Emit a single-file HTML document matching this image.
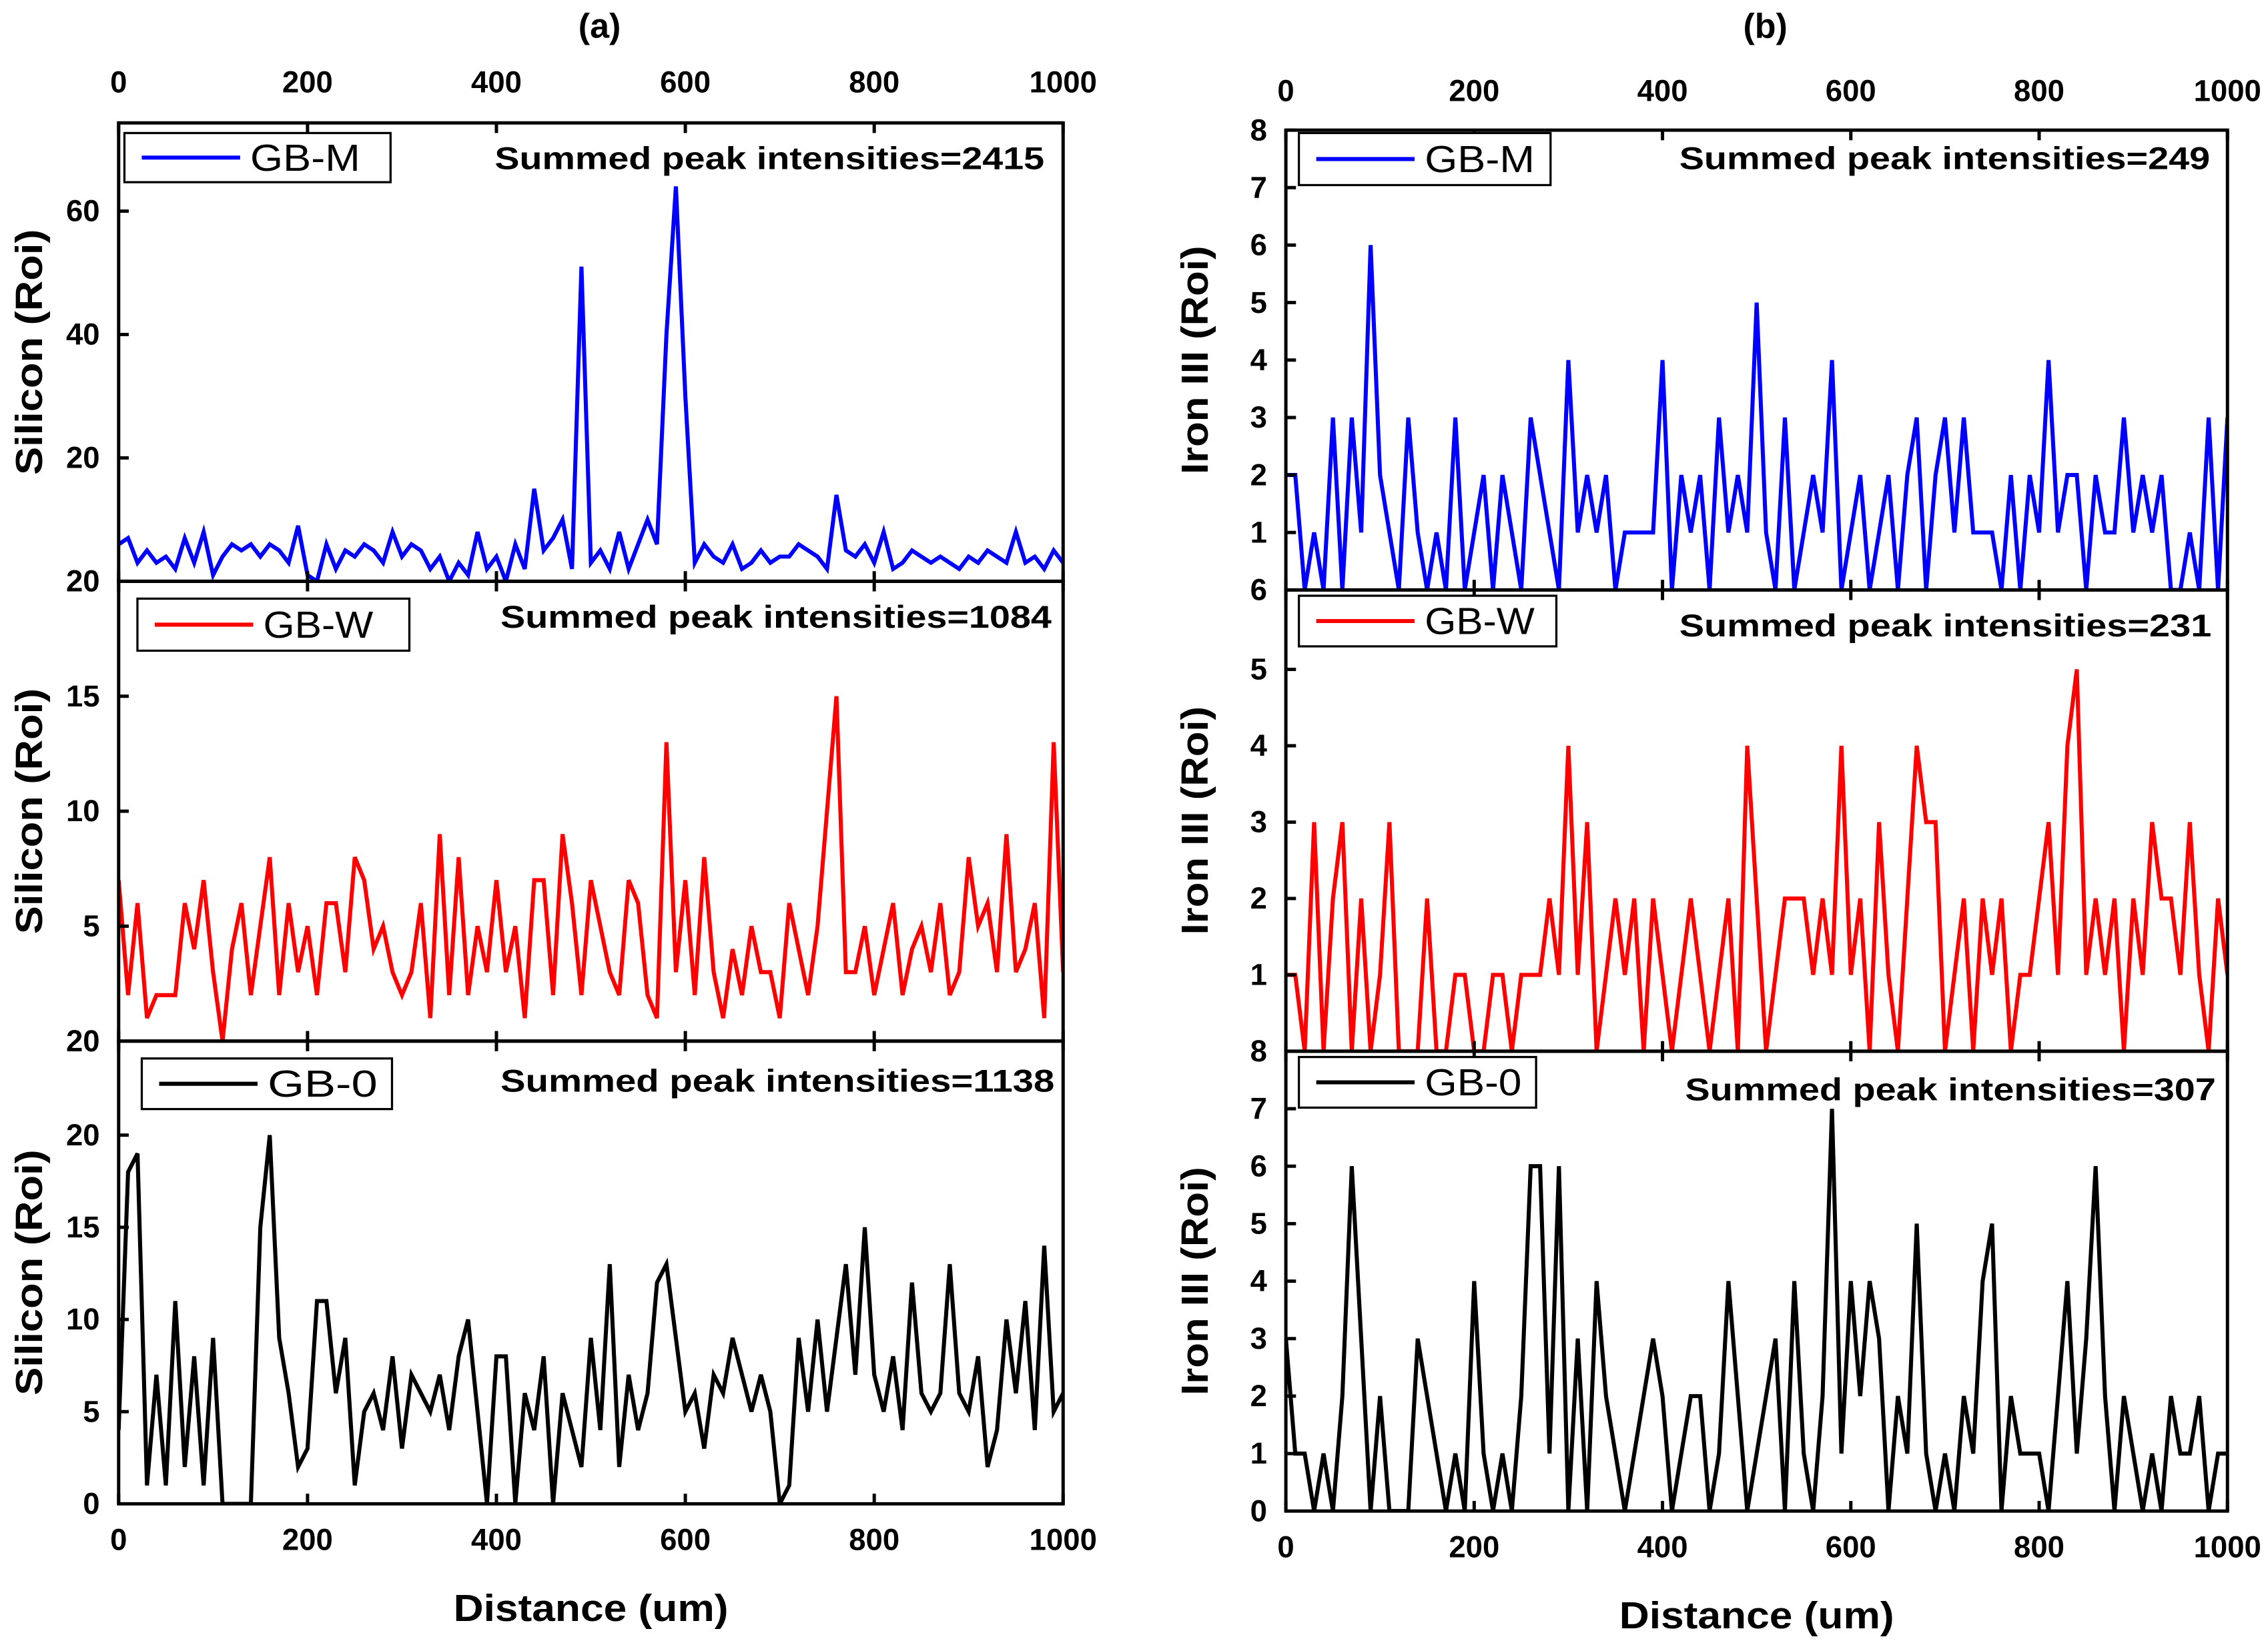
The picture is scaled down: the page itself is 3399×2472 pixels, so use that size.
<!DOCTYPE html>
<html><head><meta charset="utf-8"><style>
html,body{margin:0;padding:0;background:#fff;}
svg{display:block;font-family:"Liberation Sans",Arial,sans-serif;}
</style></head><body>
<svg id="chart" width="3399" height="2472" viewBox="0 0 1568 1140.4" xmlns="http://www.w3.org/2000/svg"></svg>
<script>
// ---- data (x = 0..1000 step 10) ----
const xStepData = 10;
const siliconGBM = [6,7,3,5,3,4,2,7,3,8, 1,4,6,5,6,4,6,5,3,9, 1,0,6,2,5,4,6,5,3,8, 4,6,5,2,4,0,3,1,8,2, 4,0,6,2,15,5,7,10,2,51, 3,5,2,8,2,6,10,6,40,64, 30,3,6,4,3,6,2,3,5,3, 4,4,6,5,4,2,14,5,4,6, 3,8,2,3,5,4,3,4,3,2, 4,3,5,4,3,8,3,4,2,5, 3];
const siliconGBW = [7,2,6,1,2,2,2,6,4,7, 3,0,4,6,2,5,8,2,6,3, 5,2,6,6,3,8,7,4,5,3, 2,3,6,1,9,2,8,2,5,3, 7,3,5,1,7,7,2,9,6,2, 7,5,3,2,7,6,2,1,13,3, 7,2,8,3,1,4,2,5,3,3, 1,6,4,2,5,10,15,3,3,5, 2,4,6,2,4,5,3,6,2,3, 8,5,6,3,9,3,4,6,1,13, 3];
const siliconGB0 = [4,18,19,1,7,1,11,2,8,1, 9,0,0,0,0,15,20,9,6,2, 3,11,11,6,9,1,5,6,4,8, 3,7,6,5,7,4,8,10,5,0, 8,8,0,6,4,8,0,6,4,2, 9,4,13,2,7,4,6,12,13,9, 5,6,3,7,6,9,7,5,7,5, 0,1,9,5,10,5,9,13,7,15, 7,5,8,4,12,6,5,6,13,6, 5,8,2,4,10,6,11,4,14,5, 6];
const ironGBM = [2,2,0,1,0,3,0,3,1,6, 2,1,0,3,1,0,1,0,3,0, 1,2,0,2,1,0,3,2,1,0, 4,1,2,1,2,0,1,1,1,1, 4,0,2,1,2,0,3,1,2,1, 5,1,0,3,0,1,2,1,4,0, 1,2,0,1,2,0,2,3,0,2, 3,1,3,1,1,1,0,2,0,2, 1,4,1,2,2,0,2,1,1,3, 1,2,1,2,0,0,1,0,3,0, 3];
const ironGBW = [1,1,0,3,0,2,3,0,2,0, 1,3,0,0,0,2,0,0,1,1, 0,0,1,1,0,1,1,1,2,1, 4,1,3,0,1,2,1,2,0,2, 1,0,1,2,1,0,1,2,0,4, 2,0,1,2,2,2,1,2,1,4, 1,2,0,3,1,0,2,4,3,3, 0,1,2,0,2,1,2,0,1,1, 2,3,1,4,5,1,2,1,2,0, 2,1,3,2,2,1,3,1,0,2, 1];
const ironGB0 = [3,1,1,0,1,0,2,6,3,0, 2,0,0,0,3,2,1,0,1,0, 4,1,0,1,0,2,6,6,1,6, 0,3,0,4,2,1,0,1,2,3, 2,0,1,2,2,0,1,4,2,0, 1,2,3,0,4,1,0,2,7,1, 4,2,4,3,0,2,1,5,1,0, 1,0,2,1,4,5,0,2,1,1, 1,0,2,4,1,3,6,2,0,2, 1,0,1,0,2,1,1,2,0,1, 1];
const xTicks = [0,200,400,600,800,1000];
const siTicksM = [20,40,60];
const siTicksW = [5,10,15];
const siTicks0 = [5,10,15,20];
const feTicksM = [1,2,3,4,5,6,7,8];
const feTicksW = [1,2,3,4,5];
const feTicks0 = [1,2,3,4,5,6,7];
const sums = ["2415","1084","1138","249","231","307"];

const NS="http://www.w3.org/2000/svg";
const svg=document.getElementById('chart');
function mk(tag,attrs,parent){const e=document.createElementNS(NS,tag);for(const k in attrs)e.setAttribute(k,attrs[k]);(parent||svg).appendChild(e);return e;}

const colA={x0:82,x1:735}, colB={x0:889,x1:1540};
const panels=[
 {col:colA,y0:85,y1:402,vmax:74.3,data:siliconGBM,color:'#0000ff',ticks:siTicksM,label:'GB-M',sum:sums[0],leg:[86,92,184,34],sumX:722,sumY:117,sumW:380,title:'Silicon (Roi)',bottomLabel:'20',name:'a-gb-m'},
 {col:colA,y0:402,y1:720,vmax:20,data:siliconGBW,color:'#ff0000',ticks:siTicksW,label:'GB-W',sum:sums[1],leg:[95,414,188,36],sumX:727,sumY:434,sumW:381,title:'Silicon (Roi)',bottomLabel:'20',name:'a-gb-w'},
 {col:colA,y0:720,y1:1040,vmax:25.1,data:siliconGB0,color:'#000000',ticks:siTicks0,label:'GB-0',sum:sums[2],leg:[98,732,173,35],sumX:729,sumY:755,sumW:383,title:'Silicon (Roi)',bottomLabel:'0',name:'a-gb-0'},
 {col:colB,y0:90,y1:408,vmax:8,data:ironGBM,color:'#0000ff',ticks:feTicksM,label:'GB-M',sum:sums[3],leg:[898,92,174,36],sumX:1528,sumY:117,sumW:367,title:'Iron III (Roi)',bottomLabel:'6',name:'b-gb-m'},
 {col:colB,y0:408,y1:727,vmax:6.04,data:ironGBW,color:'#ff0000',ticks:feTicksW,label:'GB-W',sum:sums[4],leg:[898,412,178,35],sumX:1529,sumY:440,sumW:368,title:'Iron III (Roi)',bottomLabel:'8',name:'b-gb-w'},
 {col:colB,y0:727,y1:1045,vmax:8,data:ironGB0,color:'#000000',ticks:feTicks0,label:'GB-0',sum:sums[5],leg:[898,731,164,35],sumX:1532,sumY:761,sumW:367,title:'Iron III (Roi)',bottomLabel:'0',name:'b-gb-0'}
];

panels.forEach((p,pi)=>{
 const g=mk('g',{});
 
 
 const xs=v=>p.col.x0+(v/1000)*(p.col.x1-p.col.x0);
 const ys=v=>p.y1-(v/p.vmax)*(p.y1-p.y0);
 const cp=mk('clipPath',{id:'clip'+pi},g);
 mk('rect',{x:p.col.x0,y:p.y0,width:p.col.x1-p.col.x0,height:p.y1-p.y0},cp);
 let d='';
 p.data.forEach((v,i)=>{d+=(i?'L':'M')+xs(i*xStepData).toFixed(2)+','+ys(v).toFixed(2);});
 const path=mk('path',{d:d,fill:'none',stroke:p.color,'stroke-width':2.8,'stroke-linejoin':'miter','clip-path':'url(#clip'+pi+')'},g);
 
 
 const frame=mk('rect',{x:p.col.x0,y:p.y0,width:p.col.x1-p.col.x0,height:p.y1-p.y0,fill:'none',stroke:'#000','stroke-width':2.3},g);
 
 
 p.ticks.forEach(t=>{
  const y=ys(t);
  mk('line',{x1:p.col.x0,x2:p.col.x0+7,y1:y,y2:y,stroke:'#000','stroke-width':2.3},g);
  const tl=mk('text',{x:p.col.x0-13,y:y+7,'text-anchor':'end','font-size':21,'font-weight':'bold'},g);
  tl.textContent=t;
  
  
 });
 const bl=mk('text',{x:p.col.x0-13,y:p.y1+7,'text-anchor':'end','font-size':21,'font-weight':'bold'},g);
 bl.textContent=p.bottomLabel;
 
 
 xTicks.forEach(t=>{
  const x=xs(t);
  mk('line',{x1:x,x2:x,y1:p.y1,y2:p.y1-7,stroke:'#000','stroke-width':2.3},g);
  mk('line',{x1:x,x2:x,y1:p.y0,y2:p.y0+7,stroke:'#000','stroke-width':2.3},g);
 });
 const lx=p.leg[0],ly=p.leg[1],lw=p.leg[2],lh=p.leg[3];
 const lg=mk('g',{},g);
 
 
 mk('rect',{x:lx,y:ly,width:lw,height:lh,fill:'#fff',stroke:'#000','stroke-width':1.5},lg);
 mk('line',{x1:lx+12,x2:lx+80,y1:ly+lh/2,y2:ly+lh/2,stroke:p.color,'stroke-width':2.8},lg);
 const lt=mk('text',{x:lx+87,y:ly+lh/2+9,'font-size':26,textLength:Math.min(76,lw-97),lengthAdjust:'spacingAndGlyphs'},lg);
 lt.textContent=p.label;
 const st=mk('text',{x:p.sumX-p.sumW,y:p.sumY,'font-size':22,'font-weight':'bold',textLength:p.sumW,lengthAdjust:'spacingAndGlyphs'},g);
 st.textContent='Summed peak intensities='+p.sum;
 
 
 const tx=p.col===colA?29:835, ty=(p.y0+p.y1)/2;
 const tw=p.col===colA?170:158;
 const at=mk('text',{x:tx-tw/2,y:ty,'font-size':26,'font-weight':'bold',textLength:tw,lengthAdjust:'spacingAndGlyphs',transform:'rotate(-90 '+tx+' '+ty+')'},g);
 at.textContent=p.title;
 
 
});

[[colA,85,57,1065,1112,'(a)'],[colB,90,63,1070,1117,'(b)']].forEach(c=>{
 const col=c[0];
 const xs=v=>col.x0+(v/1000)*(col.x1-col.x0);
 xTicks.forEach(t=>{
  const a=mk('text',{x:xs(t),y:c[2]+7,'text-anchor':'middle','font-size':21,'font-weight':'bold'});
  a.textContent=t;
  
  
  const b=mk('text',{x:xs(t),y:c[3]+7,'text-anchor':'middle','font-size':21,'font-weight':'bold'});
  b.textContent=t;
  
  
 });
 const cx=(col.x0+col.x1)/2;
 const ti=mk('text',{x:cx-95,y:c[4]+9,'font-size':26,'font-weight':'bold',textLength:190,lengthAdjust:'spacingAndGlyphs'});
 ti.textContent='Distance (um)';
 
 
 const pl=mk('text',{x:cx+6,y:26,'text-anchor':'middle','font-size':24,'font-weight':'bold'});
 pl.textContent=c[5];
 
 
});
</script>
</body></html>
